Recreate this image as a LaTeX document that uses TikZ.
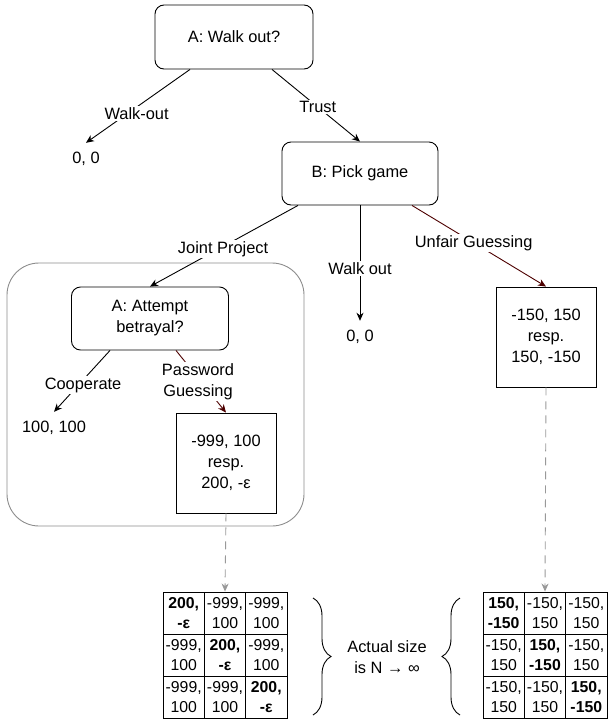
\documentclass[tikz,border=0pt]{standalone}
\usepackage{fontspec}
\setmainfont{Liberation Sans}
\usepackage{tikz}
\usetikzlibrary{arrows.meta,decorations.pathreplacing}

\definecolor{guessred}{HTML}{4D0000}
\definecolor{groupgray}{HTML}{8C8C8C}
\definecolor{dashgray}{HTML}{999999}

\tikzset{
	every node/.style={font=\fontsize{16.4}{21}\selectfont},
	decision/.style={draw, rounded corners=9pt, minimum width=158pt, minimum height=64pt, align=center, line width=0.9pt},
	payoffbox/.style={draw, minimum width=100pt, minimum height=100pt, align=center, line width=0.9pt},
	payoff/.style={minimum height=32pt, inner sep=0pt},
	move/.style={-{Stealth[length=8pt,width=7pt,inset=2.5pt]}, line width=0.9pt},
	lbl/.style={fill=white, inner sep=1.5pt, align=center},
	cellbox/.style={draw, minimum width=41.3pt, minimum height=42pt, inner sep=0pt, align=center, line width=0.9pt, font=\fontsize{15.8}{19.5}\selectfont},
	reveal/.style={-{Stealth[length=8pt,width=7pt,inset=2.5pt]}, dashgray, dash pattern=on 8pt off 6pt, line width=0.9pt}
}

\begin{document}
\begin{tikzpicture}[x=1pt,y=-1pt]
			\useasboundingbox (0,0) rectangle (608,726);
			\draw[groupgray, line width=0.9pt, rounded corners=32pt] (7,263) rectangle (304,526);
			\node[decision] (walkq) at (234,37) {A: Walk out?};
			\node[payoff] (out1) at (86,159) {0, 0};
			\node[decision, minimum width=156pt, minimum height=63pt] (pick) at (360,173.5) {B: Pick game};
			\node[payoff] (out2) at (360,337) {0, 0};
			\node[decision, minimum width=157pt, minimum height=63pt] (betray) at (150,318.5) {A: Attempt\\betrayal?};
			\node[payoff] (coop) at (54,428) {100, 100};
			\node[payoffbox] (pw) at (226,463) {-999, 100\\resp.\\200, -ε};
			\node[payoffbox] (unfair) at (546,337) {-150, 150\\resp.\\150, -150};
			\draw[move] ([xshift=-44pt]walkq.south) -- node[lbl, pos=0.6, xshift=9pt] {Walk-out} (out1.north);
			\draw[move] ([xshift=38pt]walkq.south) -- node[lbl, pos=0.52] {Trust} (pick.north);
			\draw[move] ([xshift=-62pt]pick.south) -- node[lbl, pos=0.54, xshift=5pt] {Joint Project} (betray.north);
			\draw[move] (pick.south) -- node[lbl, pos=0.55] {Walk out} (out2.north);
			\draw[move, guessred] ([xshift=52pt]pick.south) -- node[lbl, pos=0.46, text=black] {Unfair Guessing} (unfair.north);
			\draw[move] ([xshift=-40pt]betray.south) -- node[lbl, pos=0.57, xshift=5pt] {Cooperate} (coop.north);
			\draw[move, guessred] ([xshift=26pt]betray.south) -- node[lbl, pos=0.5, text=black, xshift=-3pt] {Password\\Guessing} (pw.north);
			\foreach \r in {1,2,3}
				\foreach \c in {1,2,3} {
					\node[cellbox] (pa-\r-\c) at ({225+41.3*(\c-2)},{655+42*(\r-2)})
						{\ifnum\r=\c\textbf{200,}\\\textbf{-ε}\else-999,\\100\fi};
					\node[cellbox] (pb-\r-\c) at ({545+41.3*(\c-2)},{655+42*(\r-2)})
						{\ifnum\r=\c\textbf{150,}\\\textbf{-150}\else-150,\\150\fi};
				}
			\draw[reveal] (pw.south) -- (pa-1-2.north);
			\draw[reveal] (unfair.south) -- (pb-1-2.north);
			\draw[decorate, decoration={brace, amplitude=18pt}, line width=0.9pt] (313,598) -- (313,715);
			\draw[decorate, decoration={brace, amplitude=18pt}, line width=0.9pt] (460,715) -- (460,598);
			\node[align=center] (sizenote) at (387,657) {Actual size\\is N → ∞};
		\end{tikzpicture}
\end{document}
